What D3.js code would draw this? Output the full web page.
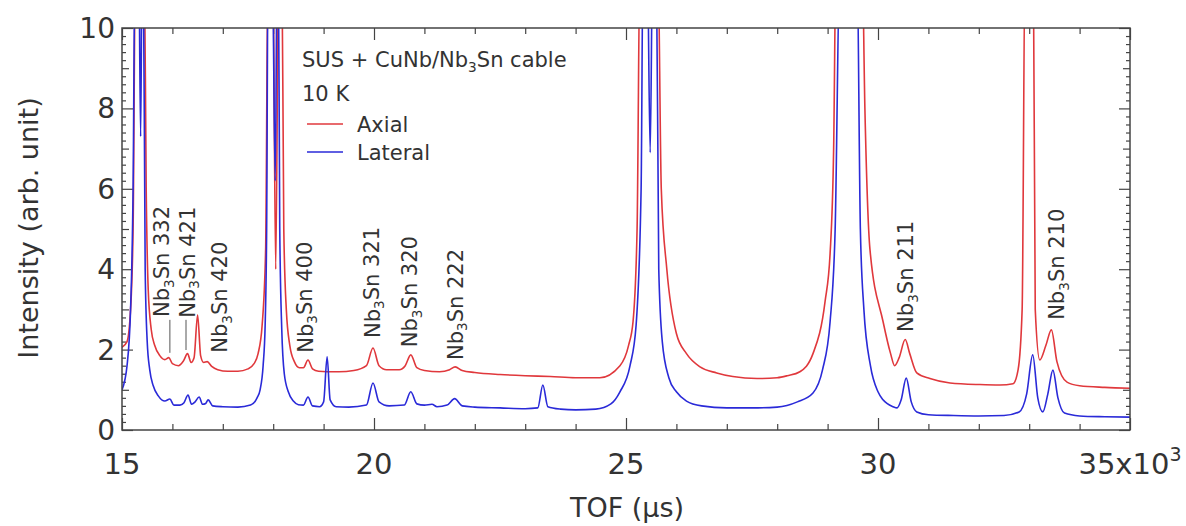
<!DOCTYPE html>
<html>
<head>
<meta charset="utf-8">
<script src="https://cdn.jsdelivr.net/npm/d3@7"></script>
<style>
  body { margin: 0; background: #fff; }
  text { font-family: "DejaVu Sans", sans-serif; fill: #333; }
  .tick line { stroke: #444; stroke-width: 1.2; }
  .domain { display: none; }
</style>
</head>
<body>
<svg id="chart" width="1186" height="526"></svg>
<script>
// --data-- TOF in 10^3 us, intensity in arb. unit (peaks above 10 are clipped)
const axial = [
  [15.00,2.06],[15.10,2.2],[15.17,3.0],[15.22,5.0],[15.27,12],[15.44,12],[15.48,6],[15.52,3.5],
  [15.58,2.5],[15.65,2.1],[15.75,1.85],[15.85,1.75],[15.93,1.8],[16.00,1.65],[16.12,1.6],
  [16.22,1.72],[16.30,1.9],[16.37,1.68],[16.43,1.8],[16.50,2.86],[16.56,1.85],[16.62,1.68],
  [16.69,1.7],[16.78,1.58],[16.9,1.5],[17.1,1.46],[17.3,1.46],[17.5,1.52],[17.62,1.65],
  [17.70,1.9],[17.78,2.6],[17.85,4.5],[17.90,12],[17.99,12],[18.05,4.0],[18.11,12],[18.17,12],
  [18.21,5],[18.26,3],[18.33,2.1],[18.42,1.7],[18.52,1.55],[18.60,1.55],[18.69,1.74],
  [18.78,1.52],[18.9,1.46],[19.07,1.45],[19.3,1.45],[19.6,1.48],[19.85,1.6],[19.98,2.04],
  [20.10,1.6],[20.25,1.5],[20.5,1.5],[20.62,1.6],[20.73,1.87],[20.85,1.55],[21.0,1.48],
  [21.3,1.45],[21.5,1.5],[21.61,1.57],[21.75,1.48],[22.0,1.43],[22.5,1.38],[23.0,1.35],
  [23.5,1.33],[24.0,1.3],[24.48,1.3],[24.88,1.6],[25.05,2.1],[25.14,2.7],[25.22,5],[25.28,12],
  [25.63,12],[25.70,6],[25.81,4.0],[26.0,2.4],[26.2,1.9],[26.47,1.57],[26.8,1.42],[27.12,1.33],
  [27.6,1.28],[28.0,1.3],[28.2,1.35],[28.45,1.45],[28.71,1.9],[28.95,3.2],[29.05,4.4],
  [29.12,7],[29.17,12],[29.68,12],[29.74,8],[29.84,4.5],[30.1,2.7],[30.25,1.9],[30.33,1.6],
  [30.42,1.8],[30.54,2.25],[30.63,1.9],[30.77,1.42],[31.03,1.28],[31.43,1.17],[32.02,1.13],
  [32.42,1.12],[32.68,1.15],[32.78,1.5],[32.86,3],[32.92,12],[33.08,12],[33.12,3],
  [33.21,1.74],[33.33,2.1],[33.44,2.49],[33.55,1.7],[33.75,1.19],[34.0,1.1],[34.5,1.06],
  [35.0,1.04]
];
const lateral = [
  [15.00,1.0],[15.10,1.6],[15.17,3.0],[15.22,6],[15.26,12],[15.33,12],[15.37,7.3],[15.40,12],
  [15.42,12],[15.46,4],[15.50,2.2],[15.55,1.5],[15.62,1.1],[15.72,0.85],[15.85,0.72],
  [15.95,0.77],[16.03,0.62],[16.15,0.62],[16.23,0.68],[16.31,0.87],[16.38,0.64],[16.45,0.7],
  [16.53,0.82],[16.60,0.64],[16.66,0.66],[16.71,0.75],[16.80,0.6],[17.0,0.58],[17.3,0.57],
  [17.55,0.62],[17.68,0.8],[17.74,1.0],[17.80,1.6],[17.84,2.6],[17.87,5],[17.90,12],[17.98,12],
  [18.04,6.2],[18.08,12],[18.10,12],[18.13,5],[18.17,2.5],[18.22,1.4],[18.30,0.95],[18.40,0.72],
  [18.50,0.63],[18.60,0.62],[18.69,0.82],[18.78,0.6],[18.92,0.58],[19.0,0.7],[19.07,1.82],
  [19.13,0.75],[19.25,0.58],[19.5,0.57],[19.85,0.62],[19.98,1.17],[20.10,0.7],[20.3,0.6],
  [20.6,0.62],[20.73,0.95],[20.85,0.65],[21.0,0.62],[21.15,0.64],[21.25,0.58],[21.45,0.62],
  [21.6,0.78],[21.75,0.6],[22.0,0.57],[22.5,0.55],[23.0,0.53],[23.25,0.55],[23.35,1.12],
  [23.45,0.58],[23.7,0.52],[24.0,0.5],[24.4,0.52],[24.7,0.65],[24.88,0.95],[25.08,1.6],
  [25.2,2.6],[25.3,6],[25.34,12],[25.42,12],[25.48,6.9],[25.53,12],[25.60,12],[25.65,4],
  [25.72,2.2],[25.85,1.3],[26.0,0.95],[26.2,0.72],[26.5,0.6],[27.0,0.55],[27.5,0.55],
  [28.0,0.57],[28.4,0.7],[28.71,0.92],[28.9,1.5],[29.05,2.7],[29.15,5],[29.25,12],[29.58,12],
  [29.65,5],[29.72,3],[29.85,1.6],[30.0,0.95],[30.1,0.75],[30.3,0.58],[30.38,0.55],[30.46,0.75],
  [30.56,1.29],[30.66,0.7],[30.77,0.45],[31.0,0.38],[31.5,0.36],[32.0,0.35],[32.5,0.36],
  [32.8,0.45],[32.95,0.9],[33.07,1.87],[33.17,0.8],[33.27,0.45],[33.37,0.9],[33.47,1.49],
  [33.57,0.8],[33.7,0.42],[34.0,0.35],[34.5,0.33],[35.0,0.32]
];
const peakLabels = [
  {hkl: "332", tof: 15.79, y: 2.81},
  {hkl: "421", tof: 16.29, y: 2.79},
  {hkl: "420", tof: 16.94, y: 1.92},
  {hkl: "400", tof: 18.63, y: 1.92},
  {hkl: "321", tof: 19.96, y: 2.29},
  {hkl: "320", tof: 20.71, y: 2.06},
  {hkl: "222", tof: 21.61, y: 1.74},
  {hkl: "211", tof: 30.54, y: 2.44},
  {hkl: "210", tof: 33.55, y: 2.74}
];
const leaders = [
  {tof: 15.95, y0: 1.92, y1: 2.74},
  {tof: 16.27, y0: 1.99, y1: 2.74}
];
const seriesNames = ["Axial", "Lateral"];
const seriesColors = ["#e0383c", "#2a2ad8"];
const xMajor = [15, 20, 25, 30, 35];
const xLabels = ["15", "20", "25", "30", "35x10"];
const yMajor = [0, 2, 4, 6, 8, 10];
const yLabels = ["0", "2", "4", "6", "8", "10"];

// --chart--
const svg = d3.select("#chart");
const mLeft = 122, mRight = 1130, mTop = 28, mBottom = 430;

const x = d3.scaleLinear().domain([15, 35]).range([mLeft, mRight]);
const y = d3.scaleLinear().domain([0, 10]).range([mBottom, mTop]);

svg.append("defs").append("clipPath").attr("id", "plot-clip")
  .append("rect").attr("x", mLeft).attr("y", mTop)
  .attr("width", mRight - mLeft).attr("height", mBottom - mTop);

// ticks, all pointing inward
const xMinor = d3.range(15, 35.01, 1).filter(v => !xMajor.includes(v));
const yMinor = d3.range(0, 10.01, 0.2).map(v => +v.toFixed(1)).filter(v => v % 1 !== 0);
const yMid = [1, 3, 5, 7, 9];

function tickRow(axisFn, scale, values, size, tx, ty) {
  svg.append("g").attr("transform", `translate(${tx},${ty})`)
    .call(axisFn(scale).tickValues(values).tickSize(size).tickFormat(""));
}
tickRow(d3.axisBottom, x, xMajor, -12, 0, mBottom);
tickRow(d3.axisBottom, x, xMinor, -6, 0, mBottom);
tickRow(d3.axisTop, x, xMajor, -12, 0, mTop);
tickRow(d3.axisTop, x, xMinor, -6, 0, mTop);
tickRow(d3.axisLeft, y, yMajor, -11, mLeft, 0);
tickRow(d3.axisLeft, y, yMid, -7, mLeft, 0);
tickRow(d3.axisLeft, y, yMinor, -4, mLeft, 0);
tickRow(d3.axisRight, y, yMajor, -11, mRight, 0);
tickRow(d3.axisRight, y, yMid, -7, mRight, 0);
tickRow(d3.axisRight, y, yMinor, -4, mRight, 0);

// curves
const line = d3.line()
  .x(d => x(d[0]))
  .y(d => y(d[1]))
  .curve(d3.curveMonotoneX);

const plot = svg.append("g").attr("clip-path", "url(#plot-clip)");
[axial, lateral].forEach(function(series, i) {
  plot.append("path")
    .datum(series)
    .attr("fill", "none")
    .attr("stroke", seriesColors[i])
    .attr("stroke-width", 1.6)
    .attr("d", line);
});

// frame
svg.append("rect")
  .attr("x", mLeft).attr("y", mTop)
  .attr("width", mRight - mLeft).attr("height", mBottom - mTop)
  .attr("fill", "none").attr("stroke", "#444").attr("stroke-width", 1.5);

// tick labels
const xl = svg.append("g").attr("font-size", 29);
xMajor.forEach(function(v, i) {
  const t = xl.append("text")
    .attr("x", x(v)).attr("y", 474)
    .attr("text-anchor", "middle")
    .text(xLabels[i]);
  if (i === xMajor.length - 1) {
    t.append("tspan").attr("font-size", 19).attr("dy", -13).text("3");
  }
});
svg.append("g").attr("font-size", 28)
  .selectAll("text").data(yMajor).join("text")
  .attr("x", mLeft - 7).attr("y", d => y(d))
  .attr("dy", "0.36em")
  .attr("text-anchor", "end")
  .text((d, i) => yLabels[i]);

// axis titles
svg.append("text")
  .attr("x", 627).attr("y", 517)
  .attr("text-anchor", "middle").attr("font-size", 27)
  .text("TOF (\u00b5s)");
svg.append("text")
  .attr("transform", "translate(38,228) rotate(-90)")
  .attr("text-anchor", "middle").attr("font-size", 27)
  .text("Intensity (arb. unit)");

// peak labels
function nb3sn(sel, suffix) {
  sel.append("tspan").text("Nb");
  sel.append("tspan").attr("font-size", "0.65em").attr("dy", "0.35em").text("3");
  sel.append("tspan").attr("dy", "-0.23em").text("Sn " + suffix);
}
peakLabels.forEach(function(p) {
  const t = svg.append("text")
    .attr("transform", `translate(${x(p.tof)},${y(p.y)}) rotate(-90)`)
    .attr("dy", "0.36em")
    .attr("font-size", 21);
  nb3sn(t, p.hkl);
});
svg.selectAll(".leader").data(leaders).join("line")
  .attr("class", "leader")
  .attr("x1", d => x(d.tof)).attr("x2", d => x(d.tof))
  .attr("y1", d => y(d.y0)).attr("y2", d => y(d.y1))
  .attr("stroke", "#555").attr("stroke-width", 1);

// legend
const lg = svg.append("g").attr("font-size", 21);
const title = lg.append("text").attr("x", 302).attr("y", 67);
title.append("tspan").text("SUS + CuNb/Nb");
title.append("tspan").attr("font-size", "0.65em").attr("dy", "0.35em").text("3");
title.append("tspan").attr("dy", "-0.23em").text("Sn cable");
lg.append("text").attr("x", 302).attr("y", 101).text("10 K");
seriesNames.forEach(function(name, i) {
  const yy = 124 + i * 28;
  lg.append("line")
    .attr("x1", 307).attr("x2", 343).attr("y1", yy).attr("y2", yy)
    .attr("stroke", seriesColors[i]).attr("stroke-width", 1.5);
  lg.append("text").attr("x", 357).attr("y", yy).attr("dy", "0.36em").text(name);
});
</script>
</body>
</html>
